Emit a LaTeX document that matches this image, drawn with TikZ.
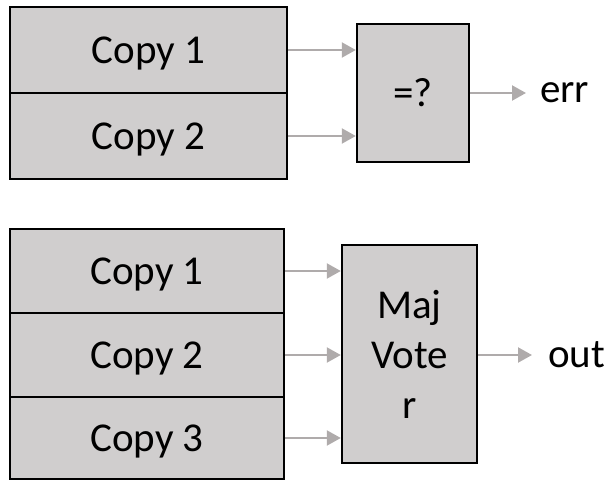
\documentclass[tikz,border=0pt]{standalone}
\usepackage{fontspec}
\setmainfont{Carlito}
\usetikzlibrary{arrows.meta}
\definecolor{boxfill}{HTML}{D0CECE}
\definecolor{arrowgray}{HTML}{AFABAB}
\begin{document}
\begin{tikzpicture}[x=1pt,y=-1pt,
  cell/.style={draw=black,line width=2.4pt,fill=boxfill,rectangle,inner sep=0pt,
    font=\fontsize{41}{50}\selectfont},
  copycell/.style={cell,text depth=0pt},
  conn/.style={draw=arrowgray,line width=2.2pt,-{Triangle[length=14pt,width=15pt]}},
  lbl/.style={inner sep=0pt,font=\fontsize{41}{50}\selectfont}]
\useasboundingbox (0,0) rectangle (613,481);
% top group
\node[copycell,minimum width=277pt,minimum height=86pt] (c1) at (148.5,50) {Copy 1};
\node[copycell,minimum width=277pt,minimum height=86pt] (c2) at (148.5,136) {Copy 2};
\node[cell,minimum width=112pt,minimum height=138pt] (eq) at (413,93) {=?};
\node[lbl,anchor=west] (err) at (540,93) {err};
\draw[conn] (c1.east) -- (c1.east -| eq.west);
\draw[conn] (c2.east) -- (c2.east -| eq.west);
\draw[conn,shorten >=14pt] (eq.east) -- (err.west);
% bottom group
\node[copycell,minimum width=274pt,minimum height=84pt] (b1) at (147,271) {Copy 1};
\node[copycell,minimum width=274pt,minimum height=84pt] (b2) at (147,355) {Copy 2};
\node[copycell,minimum width=274pt,minimum height=82pt] (b3) at (147,438) {Copy 3};
\node[cell,minimum width=135pt,minimum height=218pt,align=center] (maj) at (409.5,354) {Maj\\Vote\\r};
\node[lbl,anchor=west] (out) at (548,355) {out};
\draw[conn] (b1.east) -- (b1.east -| maj.west);
\draw[conn] (b2.east) -- (b2.east -| maj.west);
\draw[conn] (b3.east) -- (b3.east -| maj.west);
\draw[conn,shorten >=16pt] (maj.east |- out.west) -- (out.west);
\end{tikzpicture}
\end{document}
